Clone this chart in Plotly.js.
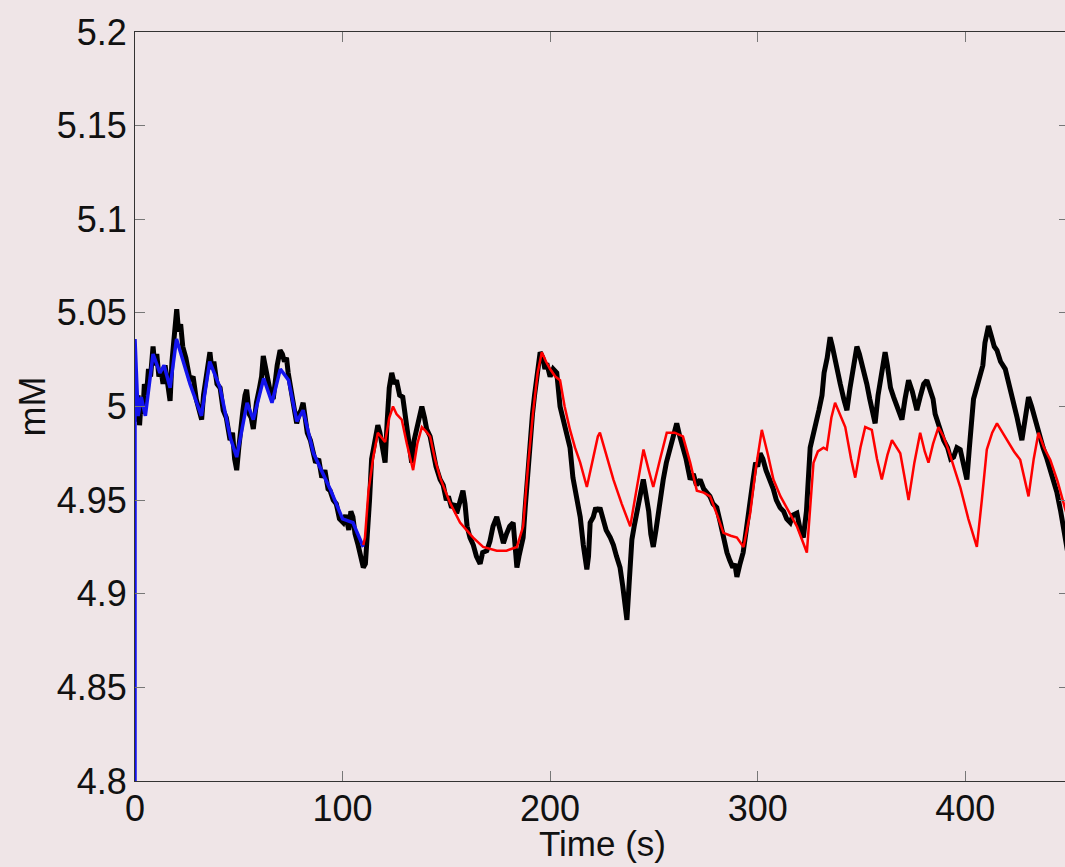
<!DOCTYPE html>
<html>
<head>
<meta charset="utf-8">
<script src="https://cdn.plot.ly/plotly-3.0.1.min.js"></script>
<style>
  html, body { margin: 0; padding: 0; background: #efe5e7; overflow: hidden; }
  #chart { width: 1080px; height: 867px; }
</style>
</head>
<body>
<div id="chart"></div>
<script>
// Measured concentration (black), fitted segment (blue), model prediction (red)
const measuredTime = [0,0.8,1.5,2.2,3,3.8,4.5,5.5,6.5,7.5,8.7,9.5,10.5,11.5,12.5,13.5,14.5,15.5,16.9,17.8,18.7,19.4,20.1,21,22,23,24.5,26.5,28,29.5,31,32.1,33,34.2,35.2,36.1,37,38,39.5,41,42.5,44,45.8,47,48,49,50,51,52,53,53.8,55,56,57,58.5,60,61,61.8,63,64.5,65.5,66.6,67.5,68.5,69.9,71,72,73,73.8,75,76,77.9,79,80,81,82,83,84.5,85.9,87,88.5,90,91.5,93,94,95.5,97,98.5,100.3,101.5,103,104,105,106,107.5,108.5,110,111,112,113,114,114.8,116,117,118,119,120.5,121.5,122.5,123.7,125,126,127.5,129,130.5,132,133.3,134.5,136,137,138.2,139.5,140.5,142.2,143.5,145,147,148.5,150,151,152.5,154,155,156.5,158,159,160,161.4,163,164.5,166.3,167.5,169.5,171,172.5,174.3,175.5,176.5,177.5,179,180.5,182.2,183,184,185,186,187,188,189,190.4,191.5,192.5,193.5,194.4,195.2,196.5,197.5,198.4,200,201.5,203.2,204.8,206,207.5,209.6,211,212.5,214.5,216,217.7,218.5,219.3,220.8,222,223,224,225.5,227,229,230.5,232,233.7,235,236,237,238,239.4,240.5,241.8,243,244.9,246,247.5,248.5,249.7,251,252.5,254.5,256,257.8,259,260,261,262.5,264,265.5,267.5,269,270.5,272.3,274,275.5,277,278.5,280.3,282,283.5,285.2,286.5,288,289,290,291.5,293,294.5,296,297.8,299,300,301.2,302.5,304,306,307.5,309,310.8,312.5,314,315.7,317,318.9,320.5,322,323.5,325.3,327,328.5,329.5,331,332,333.5,334.9,336,337.5,338.5,339.8,341.5,343,344.5,346,347.8,349,350.5,352.6,354,355.5,356.6,358,359.5,361.4,362.5,364,365.5,367.5,369.5,371,372.7,374.5,376.7,378.5,380,381.5,383,384.5,385.5,387.5,389.6,391.5,393,394.4,396,397.6,399,400.8,402,403,404,405.5,407.2,408.5,409.5,410.4,411.2,412.5,414,415.3,417,419.3,421,423.3,425,427.3,428.5,429.5,430.5,432,434.5,436,437.5,439.4,441,442.5,444.2,446,447.2,448.2,449.2,450];
const measuredConc = [5.000,4.992,5.006,4.990,5.004,4.996,5.012,5.006,5.020,5.016,5.032,5.022,5.028,5.016,5.020,5.012,5.022,5.012,5.003,5.024,5.036,5.044,5.052,5.040,5.044,5.032,5.026,5.014,5.016,5.004,4.998,4.993,5.006,5.014,5.024,5.029,5.020,5.024,5.012,5.010,4.998,4.994,4.982,4.986,4.972,4.966,4.978,4.992,4.998,5.006,5.009,4.996,4.994,4.988,5.002,5.010,5.016,5.027,5.020,5.012,5.006,5.004,5.014,5.022,5.030,5.028,5.024,5.026,5.018,5.010,5.002,4.991,4.996,4.998,5.002,4.994,4.986,4.982,4.975,4.970,4.972,4.962,4.966,4.956,4.955,4.950,4.948,4.940,4.938,4.942,4.934,4.944,4.941,4.932,4.926,4.920,4.914,4.916,4.930,4.950,4.972,4.978,4.984,4.990,4.986,4.980,4.970,4.992,5.010,5.018,5.012,5.014,5.006,5.005,4.994,4.980,4.970,4.982,4.990,4.996,5.000,4.994,4.988,4.984,4.976,4.968,4.961,4.958,4.950,4.952,4.946,4.948,4.943,4.950,4.955,4.948,4.936,4.930,4.926,4.920,4.916,4.922,4.923,4.928,4.936,4.941,4.936,4.930,4.927,4.932,4.936,4.938,4.926,4.914,4.920,4.926,4.930,4.946,4.962,4.982,4.996,5.006,5.016,5.024,5.029,5.026,5.020,5.023,5.016,5.020,5.018,5.000,4.994,4.986,4.978,4.962,4.952,4.941,4.926,4.913,4.920,4.938,4.941,4.946,4.944,4.946,4.940,4.934,4.930,4.926,4.920,4.914,4.904,4.896,4.886,4.904,4.929,4.936,4.943,4.952,4.961,4.954,4.944,4.932,4.925,4.934,4.948,4.961,4.970,4.978,4.984,4.988,4.991,4.984,4.978,4.972,4.961,4.964,4.958,4.961,4.956,4.954,4.952,4.948,4.946,4.938,4.930,4.922,4.918,4.914,4.916,4.909,4.916,4.922,4.934,4.948,4.961,4.970,4.968,4.975,4.972,4.966,4.961,4.956,4.950,4.946,4.944,4.940,4.938,4.942,4.943,4.934,4.930,4.944,4.978,4.986,4.991,4.998,5.006,5.018,5.026,5.037,5.032,5.024,5.016,5.012,5.004,4.998,5.010,5.022,5.032,5.028,5.022,5.012,5.004,4.996,4.991,5.006,5.018,5.029,5.022,5.010,5.005,4.998,4.993,5.004,5.014,5.008,4.998,5.006,5.012,5.014,5.008,5.004,4.996,4.988,4.982,4.978,4.972,4.973,4.978,4.977,4.970,4.961,4.978,4.996,5.004,5.010,5.016,5.022,5.034,5.040,5.043,5.038,5.032,5.030,5.024,5.020,5.012,5.004,4.994,4.982,4.990,5.000,5.005,5.000,4.989,4.984,4.978,4.972,4.966,4.960,4.954,4.944,4.936,4.929,4.922,4.918];

const fitTime = [0,0,1.5,3,5,8.7,12,14,16.9,20,26.5,32,36,41,46,49,54,57,62,66,70,74,78,81,86,94,100,105,110];
const fitConc = [4.800,5.036,4.995,5.005,4.995,5.028,5.018,5.022,5.010,5.036,5.012,4.995,5.024,5.010,4.983,4.973,5.002,4.993,5.015,5.002,5.020,5.014,4.992,4.998,4.975,4.956,4.940,4.938,4.925];

const predTime = [110,110.8,112.5,114.8,117,118.5,120.5,122.5,124.3,126,128.5,131,134,136,138.2,140,142.2,144.5,147,151.8,156.6,162.9,167.7,174.3,179,184,187,189.5,191.8,194,196,198,200,202.5,204.8,207,209.6,212,214.5,217.7,220.9,223,224,227,230.5,234.5,238.6,242,245,247.5,249.7,253,256.2,260,264,267.5,270.7,274,277.1,280.5,283.5,287,290,293.2,296.4,299,302,305,307.6,311,314,318.9,323.7,325.5,326.9,329,331.7,333.3,335.5,337.3,339.5,342.2,345,347,349.5,351.8,355,357.5,359.8,362.5,364.7,368.7,370.5,372.7,375.5,378.3,380.5,382.3,384.5,387.1,389.5,391.9,395,397.6,401.5,405.6,408,410.4,413,415.3,418,420.1,423.5,426.5,430.5,433,435.3,438,441,444.5,448.2,450];
const predConc = [4.926,4.930,4.955,4.973,4.986,4.984,4.981,4.994,5.000,4.996,4.993,4.980,4.966,4.980,4.989,4.987,4.984,4.972,4.962,4.9485,4.938,4.930,4.925,4.923,4.923,4.925,4.936,4.970,4.997,5.018,5.029,5.024,5.020,5.016,5.014,5.000,4.9875,4.978,4.970,4.957,4.973,4.984,4.986,4.974,4.961,4.948,4.936,4.958,4.977,4.966,4.957,4.972,4.986,4.986,4.984,4.970,4.955,4.954,4.952,4.942,4.9325,4.931,4.930,4.925,4.943,4.966,4.9875,4.974,4.961,4.952,4.946,4.936,4.922,4.950,4.970,4.976,4.978,4.977,4.994,5.002,4.996,4.989,4.972,4.962,4.978,4.989,4.9875,4.972,4.961,4.974,4.982,4.975,4.964,4.950,4.970,4.986,4.976,4.970,4.980,4.989,4.984,4.977,4.966,4.957,4.940,4.925,4.950,4.977,4.986,4.991,4.986,4.982,4.976,4.9715,4.952,4.972,4.986,4.978,4.9715,4.960,4.946,4.938];

const xTickVals = [0, 100, 200, 300, 400];
const xTickText = ['0', '100', '200', '300', '400'];
const yTickVals = [4.8, 4.85, 4.9, 4.95, 5, 5.05, 5.1, 5.15, 5.2];
const yTickText = ['4.8', '4.85', '4.9', '4.95', '5', '5.05', '5.1', '5.15', '5.2'];

const bg = '#efe5e7';
const fontFamily = 'Arial, "Liberation Sans", Helvetica, sans-serif';

const traces = [
  { x: measuredTime, y: measuredConc, type: 'scatter', mode: 'lines',
    line: { color: '#000000', width: 5 }, hoverinfo: 'skip' },
  { x: fitTime, y: fitConc, type: 'scatter', mode: 'lines',
    line: { color: '#1414ee', width: 3.5 }, hoverinfo: 'skip' },
  { x: predTime, y: predConc, type: 'scatter', mode: 'lines',
    line: { color: '#ff0000', width: 2.5 }, hoverinfo: 'skip' }
];

const axisCommon = {
  showgrid: false, zeroline: false,
  showline: true, linecolor: '#333333', linewidth: 1, mirror: 'ticks',
  ticks: 'inside', ticklen: 10, tickwidth: 1, tickcolor: '#777777',
  tickmode: 'array',
  tickfont: { family: fontFamily, size: 36, color: '#111111' }
};

const layout = {
  width: 1080, height: 867,
  margin: { l: 135, r: 11, t: 32, b: 86 },
  paper_bgcolor: bg, plot_bgcolor: bg,
  showlegend: false,
  font: { family: fontFamily, color: '#111111' },
  xaxis: Object.assign({}, axisCommon, {
    range: [0, 450], tickvals: xTickVals, ticktext: xTickText,
    ticklabelstandoff: -4,
    automargin: false
  }),
  yaxis: Object.assign({}, axisCommon, {
    range: [4.8, 5.2], tickvals: yTickVals, ticktext: yTickText,
    automargin: false,
    title: { text: 'mM', font: { family: fontFamily, size: 36, color: '#111111' }, standoff: 0 }
  }),
  annotations: [{
    text: 'Time (s)', xref: 'paper', yref: 'paper', x: 0.5, y: -0.0561,
    xanchor: 'center', yanchor: 'top', showarrow: false, borderpad: 0,
    font: { family: fontFamily, size: 35, color: '#111111' }
  }]
};

Plotly.newPlot('chart', traces, layout, { staticPlot: true, displayModeBar: false });
</script>
</body>
</html>
